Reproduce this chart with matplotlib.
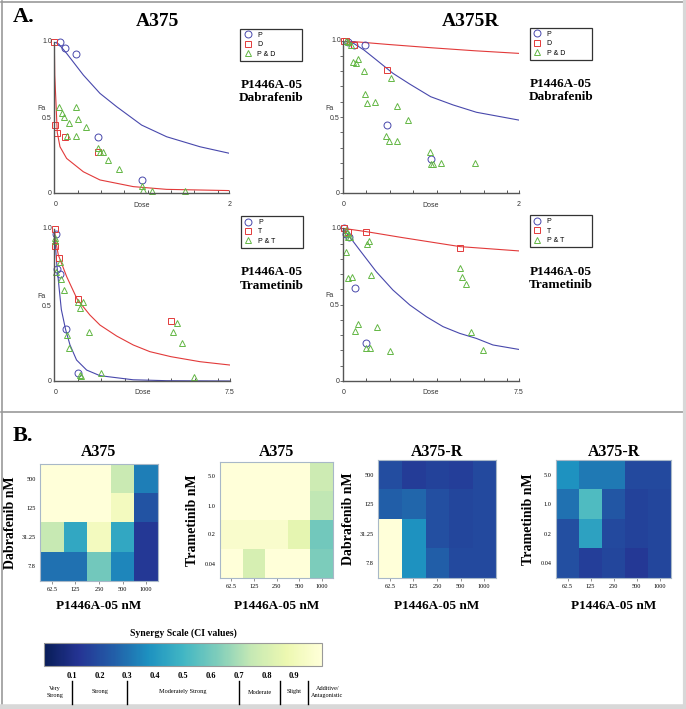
import matplotlib
matplotlib.use('Agg')
import matplotlib.pyplot as plt
import numpy as np
from matplotlib.lines import Line2D
from matplotlib.colorbar import ColorbarBase
from matplotlib.colors import Normalize

# ---------------- data: dose-effect panels (A) ----------------
# A375, P1446A-05 + dabrafenib (dose in uM)
a_dab_p_dose = [0.0625, 0.125, 0.25, 0.5, 1.0]
a_dab_p_fa = [1.0, 0.96, 0.92, 0.37, 0.09]
a_dab_d_dose = [0.0, 0.0078, 0.031, 0.125, 0.5]
a_dab_d_fa = [1.0, 0.45, 0.395, 0.37, 0.27]
a_dab_c_dose = [0.058, 0.084, 0.114, 0.172, 0.248, 0.275, 0.362, 0.141, 0.248,
                0.496, 0.522, 0.553, 0.617, 0.739, 0.998, 1.017, 1.112, 1.493]
a_dab_c_fa = [0.567, 0.527, 0.50, 0.461, 0.571, 0.49, 0.435, 0.378, 0.378,
              0.30, 0.274, 0.27, 0.22, 0.16, 0.05, 0.022, 0.015, 0.015]
a_dab_pcurve_x = [0.0, 0.05, 0.141, 0.332, 0.522, 0.713, 0.998, 1.284, 1.665, 2.0]
a_dab_pcurve_y = [1.0, 0.985, 0.923, 0.78, 0.659, 0.571, 0.45, 0.373, 0.307, 0.264]
a_dab_dcurve_x = [0.0, 0.005, 0.019, 0.034, 0.065, 0.141, 0.332, 0.522, 0.903, 1.284, 2.0]
a_dab_dcurve_y = [1.0, 0.78, 0.60, 0.40, 0.307, 0.23, 0.142, 0.088, 0.044, 0.026, 0.018]

# A375R, P1446A-05 + dabrafenib
r_dab_p_dose = [0.0625, 0.125, 0.25, 0.5, 1.0]
r_dab_p_fa = [0.99, 0.97, 0.972, 0.446, 0.223]
r_dab_d_dose = [0.0078, 0.031, 0.125, 0.5]
r_dab_d_fa = [1.0, 1.0, 0.97, 0.81]
r_dab_c_dose = [0.03, 0.06, 0.09, 0.114, 0.144, 0.171, 0.239, 0.55, 0.247, 0.273,
                0.364, 0.615, 0.74, 0.493, 0.52, 0.615, 0.995, 1.006, 1.025, 1.12, 1.5]
r_dab_c_fa = [1.0, 0.99, 0.97, 0.862, 0.852, 0.878, 0.80, 0.754, 0.649, 0.59,
              0.596, 0.572, 0.48, 0.375, 0.343, 0.345, 0.273, 0.19, 0.19, 0.20, 0.197]
r_dab_pcurve_x = [0.0, 0.114, 0.239, 0.38, 0.569, 0.759, 0.998, 1.253, 1.519, 2.0]
r_dab_pcurve_y = [1.0, 0.985, 0.939, 0.874, 0.786, 0.716, 0.633, 0.579, 0.531, 0.48]
r_dab_dcurve_x = [0.0, 0.5, 1.0, 1.5, 2.0]
r_dab_dcurve_y = [1.0, 0.976, 0.954, 0.934, 0.917]

# A375, P1446A-05 + trametinib
a_tra_p_dose = [0.0625, 0.125, 0.25, 0.5, 1.0]
a_tra_p_fa = [0.97, 0.735, 0.704, 0.342, 0.055]
a_tra_t_dose = [0.01, 0.04, 0.2, 1.0, 5.0]
a_tra_t_fa = [1.0, 0.89, 0.807, 0.537, 0.395]
a_tra_c_dose = [0.028, 0.05, 0.07, 0.242, 0.27, 0.413, 1.02, 1.10, 1.21, 0.527,
                0.64, 1.48, 1.1, 1.14, 1.98, 5.08, 5.22, 5.46, 5.98]
a_tra_c_fa = [0.939, 0.92, 0.72, 0.78, 0.67, 0.599, 0.518, 0.482, 0.518, 0.303,
              0.219, 0.325, 0.039, 0.035, 0.05, 0.32, 0.379, 0.248, 0.028]
a_tra_pcurve_x = [0.0, 0.03, 0.1, 0.2, 0.3, 0.48, 0.67, 0.95, 1.38, 1.95, 3.37, 4.8, 7.5]
a_tra_pcurve_y = [1.0, 0.93, 0.78, 0.62, 0.47, 0.34, 0.237, 0.138, 0.072, 0.035, 0.008, 0.002, 0.0]
a_tra_tcurve_x = [0.0, 0.05, 0.17, 0.53, 0.98, 1.52, 1.95, 2.66, 3.37, 4.08, 4.98, 6.22, 7.5]
a_tra_tcurve_y = [1.0, 0.93, 0.83, 0.686, 0.537, 0.434, 0.368, 0.296, 0.237, 0.193, 0.16, 0.127, 0.105]

# A375R, P1446A-05 + trametinib
r_tra_p_dose = [0.0625, 0.125, 0.25, 0.5, 1.0]
r_tra_p_fa = [1.0, 0.96, 0.945, 0.611, 0.251]
r_tra_t_dose = [0.04, 0.2, 1.0, 5.0]
r_tra_t_fa = [1.0, 0.978, 0.978, 0.873]
r_tra_c_dose = [0.11, 0.17, 0.21, 0.31, 0.11, 0.21, 0.4, 1.21, 1.02, 1.11, 0.5, 0.64,
                1.47, 1.0, 1.14, 1.99, 5.01, 5.09, 5.24, 5.48, 5.98]
r_tra_c_fa = [0.989, 0.967, 0.945, 0.945, 0.847, 0.672, 0.683, 0.694, 0.895, 0.919,
              0.328, 0.371, 0.352, 0.214, 0.214, 0.199, 0.742, 0.683, 0.635, 0.319, 0.203]
r_tra_pcurve_x = [0.0, 0.28, 0.71, 1.42, 2.13, 2.85, 3.56, 4.27, 4.98, 5.69, 6.4, 7.5]
r_tra_pcurve_y = [1.0, 0.945, 0.858, 0.716, 0.596, 0.498, 0.421, 0.356, 0.312, 0.279, 0.236, 0.207]
r_tra_tcurve_x = [0.0, 1.0, 2.5, 5.0, 7.5]
r_tra_tcurve_y = [1.0, 0.978, 0.94, 0.88, 0.852]

# ---------------- data: CI heatmaps (B) ----------------
p_dose_nm = ['62.5', '125', '250', '500', '1000']
dab_dose_nm = ['500', '125', '31.25', '7.8']
tra_dose_nm = ['5.0', '1.0', '0.2', '0.04']
ci_a375_dab = [[1.0, 1.0, 1.0, 0.76, 0.33],
               [1.0, 1.0, 1.0, 0.92, 0.22],
               [0.75, 0.45, 0.92, 0.45, 0.14],
               [0.30, 0.30, 0.60, 0.35, 0.14]]
ci_a375_tra = [[1.0, 1.0, 1.0, 1.0, 0.77],
               [1.0, 1.0, 1.0, 1.0, 0.74],
               [0.96, 0.96, 0.96, 0.85, 0.60],
               [1.0, 0.80, 1.0, 1.0, 0.62]]
ci_r_dab = [[0.20, 0.15, 0.17, 0.16, 0.19],
            [0.25, 0.27, 0.21, 0.18, 0.19],
            [1.0, 0.38, 0.21, 0.18, 0.19],
            [1.0, 0.38, 0.25, 0.19, 0.19]]
ci_r_tra = [[0.38, 0.32, 0.32, 0.19, 0.19],
            [0.30, 0.53, 0.23, 0.17, 0.18],
            [0.21, 0.43, 0.19, 0.17, 0.18],
            [0.21, 0.16, 0.18, 0.14, 0.18]]
ci_ticks = [0.1, 0.2, 0.3, 0.4, 0.5, 0.6, 0.7, 0.8, 0.9]
ci_bounds = [0.1, 0.3, 0.7, 0.85, 0.95]
ci_classes = ['Very\nStrong', 'Strong', 'Moderately Strong', 'Moderate', 'Slight',
              'Additive/\nAntagonistic']
ci_class_x = [0.04, 0.2, 0.5, 0.775, 0.9, 1.02]

SERIF = 'Liberation Serif'
SANS = 'Liberation Sans'
BLUE = '#4848ac'
RED = '#e23a3a'
GREEN = '#63b744'

W, H = 686, 709
fig = plt.figure(figsize=(W / 100, H / 100), dpi=100)


def box(x0, y0, x1, y1):
    # pixel box, origin top-left -> figure rect
    return [x0 / W, 1 - y1 / H, (x1 - x0) / W, (y1 - y0) / H]


def ptext(x, y, s, **kw):
    fig.text(x / W, 1 - y / H, s, **kw)


# frame lines
for xs, ys, c, lw in [([1, 684], [1.5, 1.5], '#9a9a9a', 1.2),
                      ([1.5, 1.5], [1, 706], '#9a9a9a', 1.2),
                      ([1, 684], [412, 412], '#9a9a9a', 1.2),
                      ([684.5, 684.5], [0, 709], '#d8d8d8', 3),
                      ([0, 686], [707, 707], '#d8d8d8', 4)]:
    fig.add_artist(Line2D([x / W for x in xs], [1 - y / H for y in ys],
                          color=c, lw=lw))


def dose_panel(px, xmax, pd, pf, sd, sf, cd, cf, pcx, pcy, scx, scy,
               labels, drug, yminor):
    x0, y0, x1, y1 = px
    ax = fig.add_axes(box(x0, y0, x1, y1))
    ax.plot(pcx, pcy, color=BLUE, lw=0.8)
    ax.plot(scx, scy, color=RED, lw=0.8)
    h1, = ax.plot(pd, pf, 'o', mfc='none', mec=BLUE, ms=5, mew=0.7, clip_on=False)
    h2, = ax.plot(sd, sf, 's', mfc='none', mec=RED, ms=5, mew=0.7, clip_on=False)
    h3, = ax.plot(cd, cf, '^', mfc='none', mec=GREEN, ms=5, mew=0.7, clip_on=False)
    ax.set_xlim(0, xmax)
    ax.set_ylim(0, 1)
    for s in ['top', 'right']:
        ax.spines[s].set_visible(False)
    for s in ['left', 'bottom']:
        ax.spines[s].set_color('#555555')
        ax.spines[s].set_linewidth(1.0)
    ax.set_xticks(list(np.arange(0, 7.5, 1.0) * xmax / 7.5) + [xmax])
    ax.tick_params(axis='x', direction='in', length=2.5, width=0.7,
                   color='#555555', labelbottom=False)
    if yminor:
        ax.set_yticks(np.arange(0, 1.01, 0.1))
        ax.tick_params(axis='y', direction='out', length=2, width=0.6,
                       color='#555555', labelleft=False)
    else:
        ax.set_yticks([])
    kw = dict(fontsize=5, family=SANS, color='#333333')
    ptext(x0 + 1, y1 + 11, '0', ha='center', va='center', **kw)
    ptext(x1, y1 + 11, '2' if xmax == 2 else '7.5', ha='center', va='center', **kw)
    ptext((x0 + x1) / 2, y1 + 12, 'Dose', ha='center', va='center', **kw)
    ptext(x0 - 2, y0, '1.0', ha='right', va='center', **kw)
    ptext(x0 - 3, (y0 + y1) / 2 + 1, '0.5', ha='right', va='center', **kw)
    ptext(x0 - 3, y1, '0', ha='right', va='center', **kw)
    ptext(x0 - 13, (y0 + y1) / 2 - 9, 'Fa', ha='center', va='center', **kw)
    lx = x1 + 11
    leg = fig.legend([h1, h2, h3], labels, loc='upper left',
                     bbox_to_anchor=((lx) / W, 1 - (y0 - 6) / H, 62 / W, 0.01),
                     mode='expand', prop={'family': SANS, 'size': 5},
                     handlelength=1.2, handletextpad=0.8, borderpad=0.45,
                     labelspacing=0.35, fancybox=False, borderaxespad=0,
                     edgecolor='#333333', framealpha=1)
    leg.get_frame().set_linewidth(0.9)
    ptext(lx + 31, y0 + 50, 'P1446A-05\n' + drug, ha='center', va='center',
          fontsize=9.5, family=SERIF, weight='bold', linespacing=1.15)
    return ax


dose_panel((54.3, 41.7, 229.3, 193.3), 2, a_dab_p_dose, a_dab_p_fa, a_dab_d_dose,
           a_dab_d_fa, a_dab_c_dose, a_dab_c_fa, a_dab_pcurve_x, a_dab_pcurve_y,
           a_dab_dcurve_x, a_dab_dcurve_y, ['P', 'D', 'P & D'], 'Dabrafenib', False)
dose_panel((343, 40.7, 518.7, 193.3), 2, r_dab_p_dose, r_dab_p_fa, r_dab_d_dose,
           r_dab_d_fa, r_dab_c_dose, r_dab_c_fa, r_dab_pcurve_x, r_dab_pcurve_y,
           r_dab_dcurve_x, r_dab_dcurve_y, ['P', 'D', 'P & D'], 'Dabrafenib', True)
dose_panel((54.3, 229, 230, 381), 7.5, a_tra_p_dose, a_tra_p_fa, a_tra_t_dose,
           a_tra_t_fa, a_tra_c_dose, a_tra_c_fa, a_tra_pcurve_x, a_tra_pcurve_y,
           a_tra_tcurve_x, a_tra_tcurve_y, ['P', 'T', 'P & T'], 'Trametinib', False)
dose_panel((343, 228.3, 518.7, 381), 7.5, r_tra_p_dose, r_tra_p_fa, r_tra_t_dose,
           r_tra_t_fa, r_tra_c_dose, r_tra_c_fa, r_tra_pcurve_x, r_tra_pcurve_y,
           r_tra_tcurve_x, r_tra_tcurve_y, ['P', 'T', 'P & T'], 'Trametinib', True)

ptext(13, 17, 'A.', ha='left', va='center', fontsize=16, family=SERIF, weight='bold')
ptext(157, 22, 'A375', ha='center', va='center', fontsize=14, family=SERIF, weight='bold')
ptext(471, 22, 'A375R', ha='center', va='center', fontsize=14, family=SERIF, weight='bold')

# ---------------- panel B ----------------
ptext(13, 436, 'B.', ha='left', va='center', fontsize=16, family=SERIF, weight='bold')


def heatmap(px, vals, ylabels, ylab, ylab_x, title):
    x0, y0, x1, y1 = px
    ax = fig.add_axes(box(x0, y0, x1, y1))
    ax.imshow(np.array(vals), cmap='YlGnBu_r', vmin=0, vmax=1, aspect='auto',
              interpolation='nearest')
    ax.set_xticks(range(len(p_dose_nm)))
    ax.set_xticklabels(p_dose_nm, fontsize=4.5, family=SERIF)
    ax.set_yticks(range(len(ylabels)))
    ax.set_yticklabels(ylabels, fontsize=4.5, family=SERIF)
    ax.tick_params(axis='x', length=2, width=0.5, pad=2, color='#666666')
    ax.tick_params(axis='y', length=0, pad=3)
    for s in ax.spines.values():
        s.set_color('#a8b8c8')
        s.set_linewidth(0.8)
    ptext((x0 + x1) / 2, 452, title, ha='center', va='center', fontsize=11.5,
          family=SERIF, weight='bold')
    ptext((x0 + x1) / 2, 606, 'P1446A-05 nM', ha='center', va='center',
          fontsize=9.5, family=SERIF, weight='bold')
    ptext(ylab_x, (y0 + y1) / 2, ylab, ha='center', va='center', rotation=90,
          fontsize=10, family=SERIF, weight='bold')


heatmap((40, 464, 158, 581), ci_a375_dab, dab_dose_nm, 'Dabrafenib nM', 11, 'A375')
heatmap((220, 462, 333, 578), ci_a375_tra, tra_dose_nm, 'Trametinib nM', 192, 'A375')
heatmap((378, 460, 496, 578), ci_r_dab, dab_dose_nm, 'Dabrafenib nM', 348, 'A375-R')
heatmap((556, 460, 671, 578), ci_r_tra, tra_dose_nm, 'Trametinib nM', 529, 'A375-R')

# synergy colour scale
cax = fig.add_axes(box(44, 643, 322, 666))
cb = ColorbarBase(cax, cmap=plt.get_cmap('YlGnBu_r'), norm=Normalize(0, 1),
                  orientation='horizontal')
cb.set_ticks(ci_ticks)
cb.set_ticklabels([f'{t:.1f}' for t in ci_ticks])
cax.tick_params(length=0, pad=4, labelsize=6)
for lab in cax.get_xticklabels():
    lab.set_family(SERIF)
    lab.set_weight('bold')
cb.outline.set_edgecolor('#999999')
cb.outline.set_linewidth(0.8)
ptext(183, 633, 'Synergy Scale (CI values)', ha='center', va='center',
      fontsize=7, family=SERIF, weight='bold')

for b in ci_bounds:
    xb = 44 + b * 278
    fig.add_artist(Line2D([xb / W, xb / W], [1 - 681 / H, 1 - 704 / H],
                          color='black', lw=1.0))
for lab, cx in zip(ci_classes, ci_class_x):
    ptext(44 + cx * 278, 692, lab, ha='center', va='center', fontsize=4.5,
          family=SERIF, linespacing=1.3)

plt.savefig('out.png', dpi=100)
